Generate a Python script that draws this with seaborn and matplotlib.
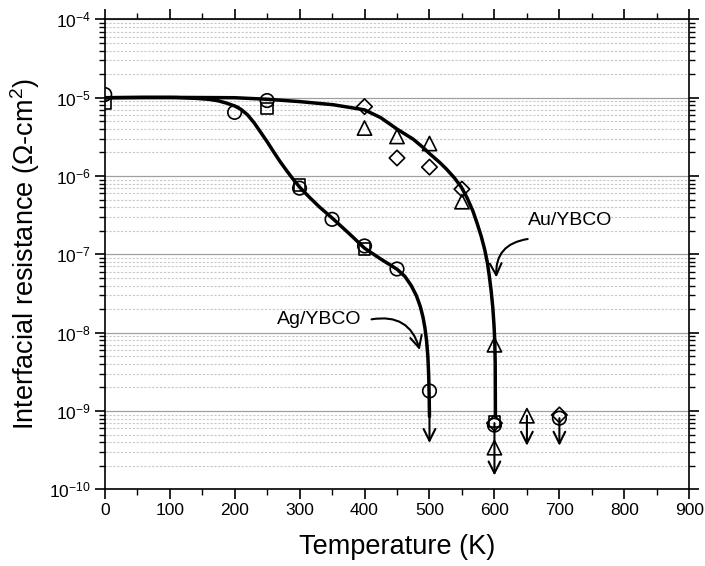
import matplotlib
matplotlib.use("Agg")
import matplotlib.pyplot as plt
import seaborn as sns
import pandas as pd
import math
from matplotlib.ticker import LogLocator, MultipleLocator, NullFormatter, FuncFormatter

# ---------------- data ----------------
circle_T = [0, 200, 250, 300, 350, 400, 450, 500, 600, 700]
circle_R = [1.1e-5, 6.5e-6, 9.2e-6, 7.0e-7, 2.8e-7, 1.28e-7, 6.5e-8, 1.8e-9, 6.6e-10, 8.1e-10]

square_T = [0, 250, 300, 400, 600]
square_R = [8.4e-6, 7.3e-6, 7.7e-7, 1.16e-7, 7.3e-10]

triangle_T = [400, 450, 500, 550, 600, 600, 650]
triangle_R = [4.1e-6, 3.2e-6, 2.6e-6, 4.7e-7, 7.0e-9, 3.4e-10, 8.7e-10]

diamond_T = [400, 450, 500, 550, 600, 700]
diamond_R = [7.7e-6, 1.7e-6, 1.3e-6, 6.8e-7, 7.0e-10, 8.9e-10]

# guide curves
ag_fit_T = [0, 60, 110, 140, 160, 175, 188, 200, 210, 220, 230, 240, 250, 260, 270,
            280, 290, 301, 315, 330, 352, 377, 400, 425, 450, 462, 472, 480, 486, 490,
            493, 495.5, 497.5, 498.8, 499.5, 500]
ag_fit_R = [1.0e-5, 1.01e-5, 1.005e-5, 9.82e-6, 9.55e-6, 9.12e-6, 8.51e-6, 7.85e-6,
            7.08e-6, 6.03e-6, 4.79e-6, 3.63e-6, 2.75e-6, 2.04e-6, 1.53e-6, 1.175e-6,
            9.12e-7, 7.08e-7, 5.37e-7, 4.07e-7, 2.82e-7, 1.82e-7, 1.20e-7, 8.71e-8,
            6.46e-8, 5.25e-8, 3.98e-8, 2.95e-8, 2.14e-8, 1.58e-8, 1.15e-8, 7.94e-9,
            5.01e-9, 2.82e-9, 1.58e-9, 8.5e-10]

au_fit_T = [0, 100, 200, 251, 301, 352, 400, 425, 450, 475, 490, 501, 515, 526, 538,
            549, 558, 567, 574, 580, 585, 589, 592, 595, 597.5, 599.3, 600.5, 601.2, 601.5]
au_fit_R = [1.0e-5, 1.01e-5, 1.0e-5, 9.55e-6, 8.91e-6, 8.13e-6, 7.0e-6, 5.56e-6,
            3.98e-6, 2.95e-6, 2.32e-6, 1.905e-6, 1.51e-6, 1.23e-6, 9.55e-7, 7.24e-7,
            5.25e-7, 3.55e-7, 2.40e-7, 1.66e-7, 1.15e-7, 7.94e-8, 5.37e-8, 3.39e-8,
            2.09e-8, 1.26e-8, 7.94e-9, 3.98e-9, 8.5e-10]

# upper-limit arrows
limit_T = [500, 600, 650, 700]
limit_from = [8.5e-10, 7.0e-10, 8.7e-10, 8.1e-10]
limit_to = [3.9e-10, 1.5e-10, 3.6e-10, 3.6e-10]

x_ticks = [0, 100, 200, 300, 400, 500, 600, 700, 800, 900]
y_exps = [-10, -9, -8, -7, -6, -5, -4]

labels = {"ag": "Ag/YBCO", "au": "Au/YBCO"}
ag_label_pos = (330.8, 1.48e-8)
ag_arrow = ((410.8, 1.48e-8), (485, 6.0e-9))
au_label_pos = (716.6, 2.67e-7)
au_arrow = ((651.2, 1.57e-7), (603, 5.07e-8))

# ---------------- style ----------------
sns.set_style("ticks")
plt.rcParams["font.family"] = ["Liberation Sans", "DejaVu Sans"]
plt.rcParams["mathtext.fontset"] = "custom"
plt.rcParams["mathtext.rm"] = "Liberation Sans"
plt.rcParams["mathtext.it"] = "Liberation Sans:italic"
plt.rcParams["mathtext.default"] = "regular"
for k in ["text.color", "axes.labelcolor", "xtick.color", "ytick.color", "axes.edgecolor"]:
    plt.rcParams[k] = "black"

fig = plt.figure(figsize=(7.05, 5.66), dpi=100)
ax = fig.add_axes([104.7 / 705, 1 - 489.3 / 566, 584.6 / 705, 469.9 / 566])
ax.set_yscale("log")
ax.set_xlim(0, 900)
ax.set_ylim(1e-10, 1e-4)

ax.set_yticks([10.0 ** e for e in y_exps])
ax.yaxis.set_minor_locator(LogLocator(base=10, subs=[2, 3, 4, 5, 6, 7, 8, 9], numticks=20))
ax.yaxis.set_minor_formatter(NullFormatter())
ax.yaxis.set_major_formatter(FuncFormatter(lambda v, p: r"$10^{%d}$" % round(math.log10(v))))
ax.grid(which="major", axis="y", color="#a0a0a0", lw=0.9, ls="-", zorder=0)
ax.grid(which="minor", axis="y", color="#c8c8c8", lw=0.8, ls=(0, (2.0, 1.5)), zorder=0)
ax.grid(which="major", axis="x", visible=False)

ax.set_xticks(x_ticks)
ax.xaxis.set_minor_locator(MultipleLocator(50))

# curves
ag_df = pd.DataFrame({"T": ag_fit_T, "R": ag_fit_R})
au_df = pd.DataFrame({"T": au_fit_T, "R": au_fit_R})
line_kw = dict(sort=False, estimator=None, color="black", lw=2.5, ax=ax, zorder=2)
sns.lineplot(data=ag_df, x="T", y="R", **line_kw).lines[-1].set_solid_joinstyle("round")
sns.lineplot(data=au_df, x="T", y="R", **line_kw).lines[-1].set_solid_joinstyle("round")

# markers
mk = dict(facecolor="none", edgecolor="black", linewidth=1.2, ax=ax, zorder=3, legend=False)
sns.scatterplot(x=circle_T, y=circle_R, marker="o", s=95, **mk)
sns.scatterplot(x=square_T, y=square_R, marker="s", s=70, **mk)
sns.scatterplot(x=triangle_T, y=triangle_R, marker="^", s=105, **mk)
sns.scatterplot(x=diamond_T, y=diamond_R, marker="D", s=62, **mk)

arrow_style = "->,head_length=0.7,head_width=0.35"
# upper-limit arrows
for t, r0, r1 in zip(limit_T, limit_from, limit_to):
    ax.annotate("", xy=(t, r1), xytext=(t, r0),
                arrowprops=dict(arrowstyle=arrow_style, lw=1.5, color="black",
                                shrinkA=0, shrinkB=0, mutation_scale=12),
                zorder=4)

# labels with curved arrows
ax.text(*ag_label_pos, labels["ag"], ha="center", va="center", fontsize=14, zorder=5)
ax.annotate("", xy=ag_arrow[1], xytext=ag_arrow[0],
            arrowprops=dict(arrowstyle=arrow_style, lw=1.5, color="black",
                            shrinkA=0, shrinkB=0, mutation_scale=12,
                            connectionstyle="arc3,rad=-0.45"))
ax.text(*au_label_pos, labels["au"], ha="center", va="center", fontsize=14, zorder=5)
ax.annotate("", xy=au_arrow[1], xytext=au_arrow[0],
            arrowprops=dict(arrowstyle=arrow_style, lw=1.5, color="black",
                            shrinkA=0, shrinkB=0, mutation_scale=12,
                            connectionstyle="arc3,rad=0.45"))

# axes styling
for s in ax.spines.values():
    s.set_visible(True)
    s.set_linewidth(1.2)
    s.set_color("black")
ax.tick_params(which="major", direction="out", length=7, width=1.2, colors="black",
               labelsize=12.5, top=True, right=True, pad=3)
ax.tick_params(which="minor", direction="out", length=4, width=1.0, colors="black",
               top=True, right=True)

ax.set_xlabel("Temperature (K)", fontsize=19.5)
ax.set_ylabel(r"Interfacial resistance ($\Omega$-cm$^2$)", fontsize=19.5)
ax.xaxis.set_label_coords(0.5, -0.096)
ax.yaxis.set_label_coords(-0.107, 0.5)

fig.savefig("out.png", dpi=100)
